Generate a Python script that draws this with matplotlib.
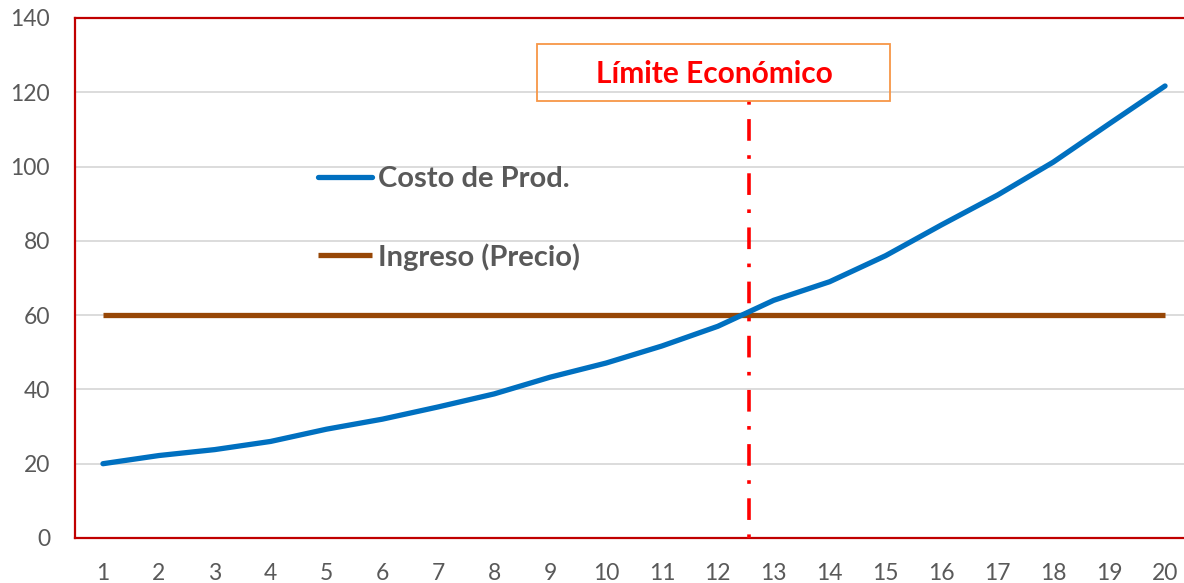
import matplotlib
matplotlib.use("Agg")
import matplotlib.pyplot as plt
from matplotlib.patches import Rectangle

years = list(range(1, 21))
costo = [20, 22.2, 23.8, 26, 29.3, 32, 35.3, 38.8, 43.3, 47.1,
         51.7, 57, 64, 69, 76, 84.3, 92.3, 101.2, 111.5, 121.7]
precio = [60] * 20
limite_x = 12.55
yticks = [0, 20, 40, 60, 80, 100, 120, 140]

plt.rcParams['font.family'] = ['Lato', 'DejaVu Sans']

fig = plt.figure(figsize=(11.84, 5.83), dpi=100)
ax = fig.add_axes([75/1184, 45/583, (1193-75)/1184, 520/583])

ax.set_xlim(0.5, 20.5)
ax.set_ylim(0, 140)
ax.set_yticks(yticks)
ax.set_xticks(years)
for y in yticks[1:-1]:
    ax.axhline(y, color='#D9D9D9', lw=1.3, zorder=0)

ax.plot(years, costo, color='#0070C0', lw=3.8, solid_capstyle='round',
        label='Costo de Prod.', zorder=3)
ax.plot(years, precio, color='#974706', lw=3.8, solid_capstyle='butt',
        label='Ingreso (Precio)', zorder=2)

ax.vlines(limite_x, 0, 118, colors='#FF0000', lw=2.6,
          linestyles=[(0, (1, 4, 6, 4))], zorder=4)

ax.add_patch(Rectangle((8.76, 117.7), 15.08 - 8.76, 133 - 117.7,
                       fill=False, edgecolor='#F79646', lw=1.3, zorder=5,
                       clip_on=False))
ax.text(11.93, 124.9, 'Límite Económico', color='#FF0000', fontsize=21.5,
        fontweight='bold', ha='center', va='center', zorder=6)

for s in ['left', 'bottom', 'top']:
    ax.spines[s].set_color('#C00000')
    ax.spines[s].set_linewidth(1.6)
ax.spines['right'].set_visible(False)
ax.tick_params(length=0, labelsize=16.5, colors='#595959')
ax.tick_params(axis='x', pad=18)
ax.tick_params(axis='y', pad=18)

leg = ax.legend(loc='upper left', bbox_to_anchor=(318/1184, 1 - 166/583),
                bbox_transform=fig.transFigure, frameon=False,
                prop={'family': ['Lato', 'DejaVu Sans'], 'weight': 'bold', 'size': 21},
                handlelength=1.85, handletextpad=0.2, labelspacing=1.75,
                borderpad=0, borderaxespad=0)
for t in leg.get_texts():
    t.set_color('#595959')

fig.savefig('out.png', dpi=100)
